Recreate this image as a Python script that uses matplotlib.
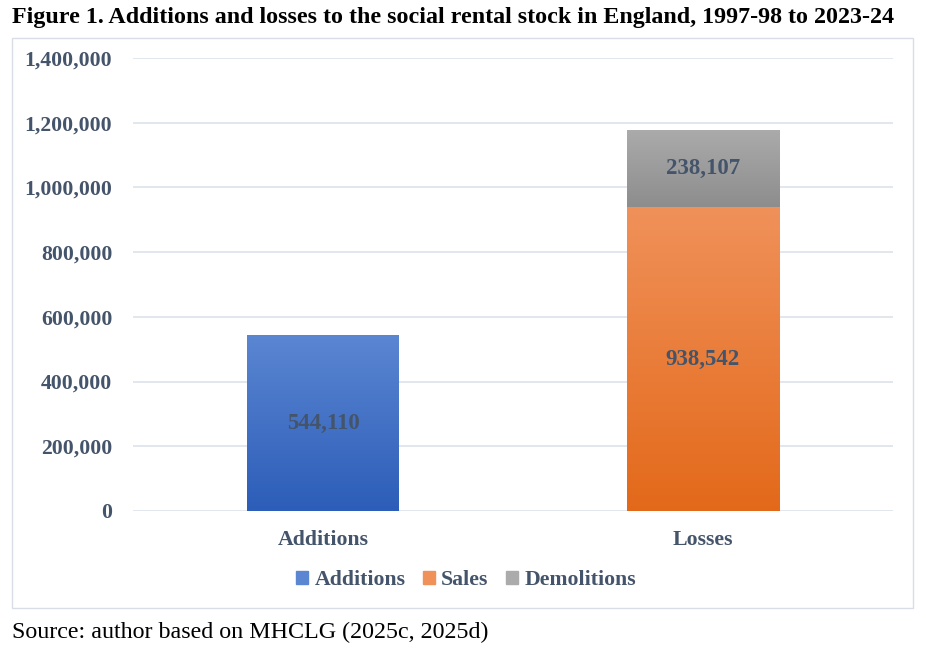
import numpy as np
import matplotlib
matplotlib.use('Agg')
import matplotlib.pyplot as plt
from matplotlib.patches import Rectangle
from matplotlib.ticker import FuncFormatter

plt.rcParams['font.family'] = ['Liberation Serif', 'DejaVu Serif']

categories = ['Additions', 'Losses']
additions = [544110, 0]
sales = [0, 938542]
demolitions = [0, 238107]
yticks = np.arange(0, 1400001, 200000)

INK = '#44546a'
GRID = '#dde2ea'
FS = 15.7

fig = plt.figure(figsize=(9.26, 6.53), dpi=100)
ax = fig.add_axes([133 / 926, 1 - 511 / 653, 760 / 926, 453 / 653])

# chart frame
fig.patches.append(Rectangle((12 / 926, 1 - 608 / 653), 901 / 926, 570 / 653,
                             transform=fig.transFigure, fill=False,
                             ec='#d9dee6', lw=1.0))

x = np.arange(len(categories))
w = 0.40
grads = {
    'Additions': ('#5b86d2', '#2c5db8'),
    'Sales': ('#f0915a', '#e3691a'),
    'Demolitions': ('#ababab', '#8d8d8d'),
}


def grad_bar(xpos, bottom, height, top_c, bot_c):
    bars = ax.bar(xpos, height, w, bottom=bottom, color=bot_c, lw=0, zorder=2)
    for b in bars:
        if b.get_height() <= 0:
            continue
        c1 = np.array(matplotlib.colors.to_rgb(top_c))
        c2 = np.array(matplotlib.colors.to_rgb(bot_c))
        t = np.linspace(0, 1, 256)[:, None]
        img = (c1 * (1 - t) + c2 * t)[:, None, :]
        x0, y0 = b.get_x(), b.get_y()
        im = ax.imshow(img, extent=[x0, x0 + b.get_width(), y0, y0 + b.get_height()],
                       aspect='auto', origin='upper', zorder=3)
        im.set_clip_path(b)
    return bars


grad_bar(x, 0, additions, *grads['Additions'])
grad_bar(x, 0, sales, *grads['Sales'])
grad_bar(x, np.array(additions) + np.array(sales), demolitions, *grads['Demolitions'])

lab = dict(ha='center', va='center', color=INK, fontsize=16.5, fontweight='bold', zorder=5)
ax.text(x[0], additions[0] / 2, f'{additions[0]:,}', **lab)
ax.text(x[1], sales[1] / 2, f'{sales[1]:,}', **lab)
ax.text(x[1], sales[1] + demolitions[1] / 2, f'{demolitions[1]:,}', **lab)

ax.set_xlim(-0.5, 1.5)
ax.set_ylim(0, 1400000)
ax.set_yticks(yticks)
ax.yaxis.set_major_formatter(FuncFormatter(lambda v, p: f'{int(v):,}'))
ax.set_xticks(x)
ax.set_xticklabels(categories)
ax.tick_params(length=0, colors=INK, labelsize=FS)
ax.tick_params(axis='y', pad=15)
ax.tick_params(axis='x', pad=14)
for t in ax.get_xticklabels() + ax.get_yticklabels():
    t.set_fontweight('bold')
ax.grid(axis='y', color=GRID, lw=1.2, zorder=0)
ax.set_axisbelow(True)
for s in ax.spines.values():
    s.set_visible(False)

handles = [Rectangle((0, 0), 1, 1, color=grads[k][0]) for k in grads]
leg = fig.legend(handles, list(grads), loc='center', bbox_to_anchor=(466 / 926, 1 - 580 / 653),
                 ncol=3, frameon=False, handlelength=0.55, handleheight=0.55,
                 handletextpad=0.3, columnspacing=0.8,
                 prop=dict(family='Liberation Serif', weight='bold', size=FS))
for t in leg.get_texts():
    t.set_color(INK)

fig.text(12 / 926, 1 - 18 / 653,
         'Figure 1. Additions and losses to the social rental stock in England, 1997-98 to 2023-24',
         ha='left', va='center', fontsize=17.3, fontweight='bold', color='black')
fig.text(12 / 926, 1 - 632 / 653, 'Source: author based on MHCLG (2025c, 2025d)',
         ha='left', va='center', fontsize=17.3, color='black')

fig.savefig('out.png', dpi=100)
